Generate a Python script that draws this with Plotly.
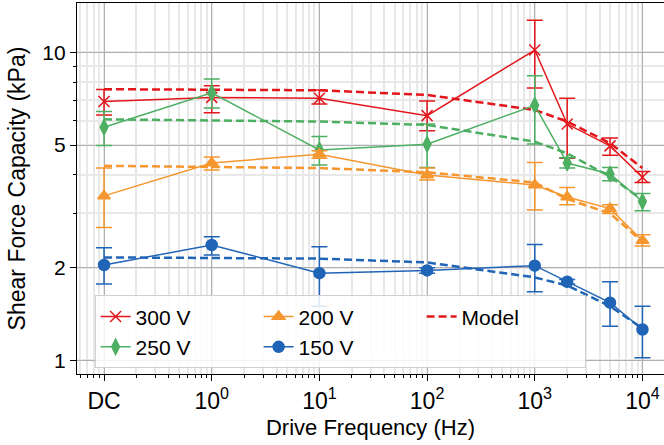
import plotly.graph_objects as go

freq = [0.1, 1, 10, 100, 1000, 2000, 5000, 10000]
x_tickvals = [0.1, 1, 10, 100, 1000, 10000]
x_ticktext = ["DC", "10<sup>0</sup>", "10<sup>1</sup>", "10<sup>2</sup>", "10<sup>3</sup>", "10<sup>4</sup>"]
y_tickvals = [1, 2, 5, 10]
y_ticktext = ["1", "2", "5", "10"]

v300 = [6.92, 7.14, 7.09, 6.23, 10.17, 5.85, 4.97, 3.93]
v300_hi = [7.57, 7.79, 7.55, 6.95, 12.7, 7.09, 5.27, 4.10]
v300_lo = [6.26, 6.37, 6.80, 5.56, 7.66, 4.53, 4.63, 3.78]
m300 = [7.59, 7.57, 7.53, 7.27, 6.50, 5.96, 5.07, 4.21]

v250 = [5.71, 7.39, 4.82, 5.03, 6.73, 4.37, 4.03, 3.28]
v250_hi = [6.42, 8.19, 5.33, 5.85, 8.39, 4.55, 4.23, 3.48]
v250_lo = [4.98, 6.60, 4.31, 4.23, 5.04, 4.21, 3.83, 3.06]
m250 = [6.06, 6.02, 5.96, 5.81, 5.13, 4.70, 3.95, 3.32]

v200 = [3.42, 4.37, 4.67, 4.00, 3.71, 3.39, 3.11, 2.45]
v200_hi = [4.21, 4.57, 4.79, 4.21, 4.39, 3.64, 3.20, 2.56]
v200_lo = [2.70, 4.15, 4.53, 3.85, 3.08, 3.20, 3.00, 2.35]
m200 = [4.28, 4.25, 4.21, 4.08, 3.78, 3.34, 3.00, 2.43]

v150 = [2.04, 2.37, 1.92, 1.96, 2.03, 1.80, 1.54, 1.26]
v150_hi = [2.32, 2.52, 2.34, 2.00, 2.38, 1.83, 1.80, 1.50]
v150_lo = [1.77, 2.20, 1.50, 1.92, 1.67, 1.77, 1.29, 1.02]
m150 = [2.16, 2.15, 2.14, 2.08, 1.86, 1.75, 1.50, 1.27]

series = [
    ("300 V", v300, v300_hi, v300_lo, m300, "#e3161c", "x-thin", 11, 1),
    ("250 V", v250, v250_hi, v250_lo, m250, "#4daf62", "diamond-tall", 11, 4),
    ("200 V", v200, v200_hi, v200_lo, m200, "#f5962f", "triangle-up", 11, 2),
    ("150 V", v150, v150_hi, v150_lo, m150, "#1f64b6", "circle", 11, 5),
]

fig = go.Figure()
for i, (name, v, hi, lo, m, col, sym, sz, rank) in enumerate(series):
    fig.add_trace(go.Scatter(
        x=freq, y=m, mode="lines", name="Model",
        line=dict(color=col, width=2.5, dash="8px,4px"),
        showlegend=(i == 0), legendrank=3 if i == 0 else 100,
    ))
for name, v, hi, lo, m, col, sym, sz, rank in series:
    fig.add_trace(go.Scatter(
        x=freq, y=v, mode="lines+markers", name=name,
        line=dict(color=col, width=1.5),
        marker=dict(symbol=sym, size=sz, color=col, line=dict(color=col, width=1.5)),
        error_y=dict(type="data", symmetric=False,
                     array=[h - a for h, a in zip(hi, v)],
                     arrayminus=[a - l for a, l in zip(v, lo)],
                     color=col, thickness=1.5, width=8),
        legendrank=rank,
    ))

font = "Liberation Sans, Arial, sans-serif"
fig.update_layout(
    width=664, height=445,
    margin=dict(l=77, r=0, t=3, b=71),
    plot_bgcolor="white", paper_bgcolor="white",
    font=dict(family=font, size=21, color="black"),
    legend=dict(
        orientation="h", x=0.03, y=0.212, xanchor="left", yanchor="top",
        entrywidth=118, entrywidthmode="pixels",
        bgcolor="rgba(255,255,255,0.85)", bordercolor="#d0d0d0", borderwidth=1,
        font=dict(size=21), tracegroupgap=0,
    ),
    xaxis=dict(
        type="log", range=[-1.251, 4.2],
        tickvals=x_tickvals, ticktext=x_ticktext,
        tickfont=dict(size=23),
        showgrid=True, gridcolor="#b0b0b0", gridwidth=1,
        ticks="outside", ticklen=6, tickcolor="black", tickwidth=1,
        showline=True, linecolor="black", linewidth=1.2, mirror=True,
        minor=dict(dtick="D1", showgrid=True, gridcolor="#e8e8e8", gridwidth=1.5,
                   ticks="outside", ticklen=3, tickcolor="black"),
        title=dict(text="Drive Frequency (Hz)", font=dict(size=22), standoff=6),
        zeroline=False,
    ),
    yaxis=dict(
        type="log", range=[-0.044, 1.160],
        tickvals=y_tickvals, ticktext=y_ticktext,
        showgrid=True, gridcolor="#b0b0b0", gridwidth=1,
        ticks="outside", ticklen=6, tickcolor="black", tickwidth=1,
        showline=True, linecolor="black", linewidth=1.2, mirror=False,
        minor=dict(dtick="D1", showgrid=True, gridcolor="#e8e8e8", gridwidth=1.5,
                   ticks="outside", ticklen=3, tickcolor="black"),
        title=dict(text="Shear Force Capacity (kPa)", font=dict(size=23), standoff=10),
        zeroline=False,
    ),
)

fig.write_html("out.html")
